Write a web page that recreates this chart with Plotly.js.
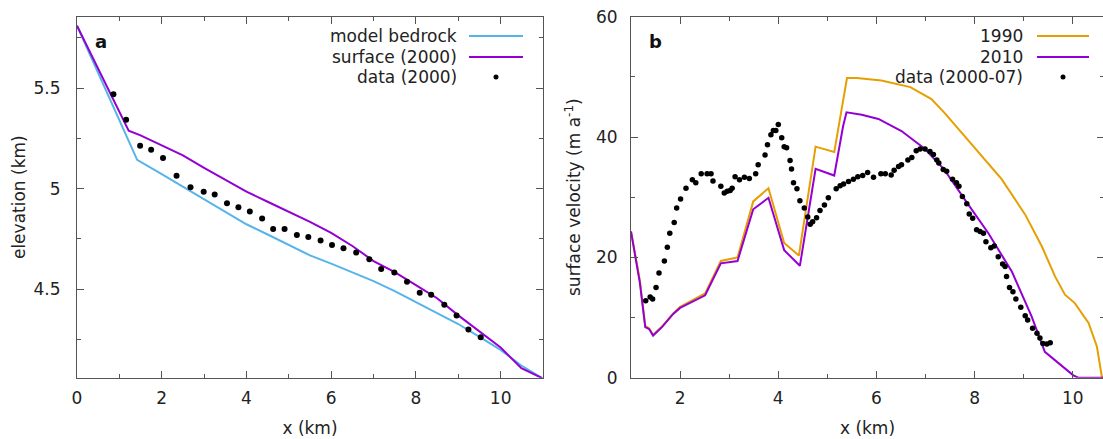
<!DOCTYPE html>
<html>
<head>
<meta charset="utf-8">
<script src="https://cdn.plot.ly/plotly-3.0.1.min.js"></script>
<style>
html,body{margin:0;padding:0;overflow:hidden;background:#fff;}
#chart{width:1110px;height:439px;}
</style>
</head>
<body>
<div id="chart"></div>
<script>
// ---- Panel a: elevation profile ----
const bedX = [0, 0.5, 1.0, 1.42, 2, 2.5, 3, 3.5, 4, 4.5, 5, 5.5, 6, 6.5, 7, 7.5, 8, 8.5, 9, 9.5, 10, 10.48, 10.98];
const bedY = [5.81, 5.575, 5.34, 5.143, 5.072, 5.01, 4.947, 4.885, 4.823, 4.772, 4.72, 4.668, 4.627, 4.583, 4.54, 4.49, 4.435, 4.382, 4.327, 4.263, 4.198, 4.122, 4.058];

const surfX = [0, 0.5, 1.0, 1.22, 1.5, 2, 2.5, 3, 3.5, 4, 4.5, 5, 5.5, 6, 6.5, 7, 7.5, 8, 8.5, 9, 9.5, 10, 10.49, 10.98];
const surfY = [5.81, 5.595, 5.38, 5.288, 5.265, 5.215, 5.165, 5.103, 5.044, 4.985, 4.935, 4.885, 4.835, 4.78, 4.715, 4.64, 4.585, 4.52, 4.455, 4.37, 4.29, 4.21, 4.107, 4.058];

const elevDataX = [0.86, 1.16, 1.49, 1.75, 2.03, 2.35, 2.68, 2.99, 3.25, 3.54, 3.81, 4.08, 4.37, 4.63, 4.90, 5.19, 5.46, 5.75, 6.02, 6.29, 6.59, 6.90, 7.18, 7.49, 7.79, 8.09, 8.36, 8.67, 8.96, 9.24, 9.53];
const elevDataY = [5.47, 5.342, 5.213, 5.193, 5.152, 5.064, 5.007, 4.984, 4.971, 4.928, 4.908, 4.886, 4.851, 4.80, 4.799, 4.770, 4.760, 4.742, 4.720, 4.704, 4.682, 4.649, 4.600, 4.583, 4.537, 4.483, 4.472, 4.423, 4.369, 4.30, 4.261];

// ---- Panel b: surface velocity ----
const v1990X = [1.0, 1.18, 1.29, 1.37, 1.45, 1.63, 1.86, 2.0, 2.51, 2.83, 3.17, 3.49, 3.80, 4.12, 4.42, 4.76, 5.14, 5.36, 5.40, 5.6, 6.1, 6.69, 7.12, 7.40, 7.75, 8.07, 8.55, 9.03, 9.37, 9.64, 9.84, 10.04, 10.32, 10.49, 10.59, 10.8];
const v1990Y = [24.3, 16.2, 8.6, 8.2, 7.1, 8.5, 10.7, 11.8, 14.0, 19.4, 20.0, 29.3, 31.5, 22.4, 20.3, 38.4, 37.5, 47.5, 49.8, 49.8, 49.4, 48.3, 46.3, 43.9, 40.6, 37.4, 33.0, 27.1, 21.8, 16.8, 13.8, 12.4, 9.1, 5.2, 0.2, 0];

const v2010X = [1.0, 1.18, 1.29, 1.37, 1.45, 1.63, 1.86, 2.0, 2.51, 2.83, 3.17, 3.49, 3.80, 4.12, 4.44, 4.76, 5.14, 5.32, 5.39, 5.7, 6.04, 6.51, 6.99, 7.38, 7.80, 8.28, 8.76, 9.16, 9.43, 9.64, 10.01, 10.11, 10.8];
const v2010Y = [24.3, 15.8, 8.4, 8.1, 7.0, 8.4, 10.6, 11.6, 13.7, 19.0, 19.4, 28.0, 29.9, 21.2, 18.6, 34.7, 33.6, 41.8, 44.1, 43.7, 43.0, 41.0, 38.0, 34.6, 29.6, 24.0, 17.6, 10.2, 4.3, 2.9, 0.4, 0, 0];

const velDataX = [1.30,1.39,1.44,1.51,1.57,1.68,1.74,1.79,1.88,1.93,2.01,2.12,2.25,2.32,2.43,2.55,2.63,2.67,2.83,2.90,2.96,3.02,3.06,3.12,3.21,3.31,3.41,3.54,3.59,3.73,3.78,3.85,3.90,3.95,4.00,4.07,4.12,4.17,4.24,4.27,4.31,4.38,4.44,4.53,4.60,4.65,4.70,4.78,4.85,4.94,5.02,5.18,5.26,5.33,5.43,5.53,5.62,5.72,5.82,5.94,6.09,6.18,6.30,6.36,6.45,6.51,6.64,6.72,6.81,6.89,6.99,7.09,7.16,7.23,7.27,7.36,7.43,7.55,7.63,7.68,7.75,7.84,7.89,7.96,8.04,8.11,8.18,8.23,8.33,8.40,8.48,8.57,8.62,8.65,8.71,8.78,8.84,8.94,9.03,9.08,9.18,9.27,9.33,9.39,9.47,9.54];
const velDataY = [12.8,13.4,13.1,15.0,17.4,19.4,21.7,24.0,25.8,28.2,29.7,31.5,32.9,32.4,33.9,33.9,33.9,32.7,31.8,30.7,31.0,31.1,31.5,33.4,32.9,33.3,33.1,33.9,35.4,37.0,38.7,40.4,41.1,41.1,42.1,39.9,38.4,38.2,36.1,34.7,32.4,31.4,29.4,28.2,26.7,25.5,25.9,26.6,27.8,28.7,29.9,31.4,31.9,32.2,32.6,33.0,33.4,33.6,34.1,33.3,33.9,33.9,33.7,34.5,35.1,35.4,36.2,36.6,37.7,38.0,38.0,37.6,37.1,36.2,35.7,34.6,34.3,33.0,32.4,31.8,30.1,28.9,27.2,26.5,24.6,24.3,24.0,22.6,21.6,21.9,20.1,18.9,18.5,16.8,15.0,14.3,13.1,11.7,10.3,9.6,8.2,7.4,6.6,5.7,5.6,5.8];

// legend labels
const legendA = ["model bedrock", "surface (2000)", "data (2000)"];
const legendB = ["1990", "2010", "data (2000-07)"];

const BLUE = "#56b4e9", PURPLE = "#9400d3", ORANGE = "#e69f00";
const W = 1110, H = 439;
const FONT = "DejaVu Sans, sans-serif";
const FS = 17;
const TXT = "#222";
const AX = "#555";

const traces = [
  {x: bedX, y: bedY, mode: "lines", line: {color: BLUE, width: 2}, xaxis: "x", yaxis: "y", name: legendA[0]},
  {x: surfX, y: surfY, mode: "lines", line: {color: PURPLE, width: 2}, xaxis: "x", yaxis: "y", name: legendA[1]},
  {x: elevDataX, y: elevDataY, mode: "markers", marker: {color: "#000", size: 6}, xaxis: "x", yaxis: "y", name: legendA[2]},
  {x: v1990X, y: v1990Y, mode: "lines", line: {color: ORANGE, width: 2}, xaxis: "x2", yaxis: "y2", name: legendB[0]},
  {x: v2010X, y: v2010Y, mode: "lines", line: {color: PURPLE, width: 2}, xaxis: "x2", yaxis: "y2", name: legendB[1]},
  {x: velDataX, y: velDataY, mode: "markers", marker: {color: "#000", size: 5.5}, xaxis: "x2", yaxis: "y2", name: legendB[2]}
];

const px = v => v / W;
const py = v => 1 - v / H;

const yDom = [py(377.7), py(16.7)];

function xAxis(dom, range, titleText, anchor) {
  return {
    domain: dom, range: range, dtick: 2, tick0: 0, anchor: anchor,
    ticks: "inside", ticklen: 7, tickwidth: 1, tickcolor: AX,
    minor: {dtick: 1, ticks: "inside", ticklen: 4, tickcolor: AX},
    showline: true, linecolor: AX, linewidth: 1, mirror: "allticks",
    showgrid: false, zeroline: false,
    tickfont: {family: FONT, size: FS, color: TXT},
    ticklabelstandoff: 5,
    title: {text: titleText, font: {family: FONT, size: FS, color: TXT}, standoff: 15}
  };
}

const layout = {
  width: W, height: H,
  margin: {l: 0, r: 0, t: 0, b: 0},
  paper_bgcolor: "#fff", plot_bgcolor: "#fff",
  showlegend: false,
  font: {family: FONT, size: FS, color: TXT},
  xaxis: xAxis([px(77), px(543)], [0, 11], "x (km)", "y"),
  yaxis: {
    domain: yDom, range: [4.06, 5.855], dtick: 0.5, tick0: 0, anchor: "x",
    ticks: "inside", ticklen: 7, tickwidth: 1, tickcolor: AX,
    minor: {dtick: 0.25, ticks: "inside", ticklen: 4, tickcolor: AX},
    showline: true, linecolor: AX, linewidth: 1, mirror: "allticks",
    showgrid: false, zeroline: false,
    tickfont: {family: FONT, size: FS, color: TXT},
    ticklabelstandoff: 12,
    title: {text: "elevation (km)", font: {family: FONT, size: FS, color: TXT}, standoff: 3}
  },
  xaxis2: xAxis([px(631), px(1104)], [1, 10.635], "x (km)", "y2"),
  yaxis2: {
    domain: yDom, range: [0, 60], dtick: 20, anchor: "x2",
    ticks: "inside", ticklen: 7, tickwidth: 1, tickcolor: AX,
    minor: {dtick: 10, ticks: "inside", ticklen: 4, tickcolor: AX},
    showline: true, linecolor: AX, linewidth: 1, mirror: "allticks",
    showgrid: false, zeroline: false,
    tickfont: {family: FONT, size: FS, color: TXT},
    ticklabelstandoff: 9,
    title: {text: "surface velocity (m a<sup>-1</sup>)", font: {family: FONT, size: FS, color: TXT}, standoff: 10}
  },
  annotations: [],
  shapes: []
};

// panel letters
layout.annotations.push({xref: "paper", yref: "paper", x: px(101), y: py(41), text: "<b>a</b>", showarrow: false, xanchor: "center", yanchor: "middle", font: {family: FONT, size: 18, color: "#111"}});
layout.annotations.push({xref: "paper", yref: "paper", x: px(655), y: py(41), text: "<b>b</b>", showarrow: false, xanchor: "center", yanchor: "middle", font: {family: FONT, size: 18, color: "#111"}});

// legends (text right-aligned, sample to the right, gnuplot style)
function addLegend(labels, textRight, lineX0, lineX1, dotX, rows, styles) {
  labels.forEach((lab, i) => {
    layout.annotations.push({xref: "paper", yref: "paper", x: px(textRight), y: py(rows[i]), text: lab, showarrow: false, xanchor: "right", yanchor: "middle", font: {family: FONT, size: FS, color: TXT}});
    const s = styles[i];
    if (s.type === "line") {
      layout.shapes.push({type: "line", xref: "paper", yref: "paper", x0: px(lineX0), x1: px(lineX1), y0: py(rows[i]), y1: py(rows[i]), line: {color: s.color, width: 2}});
    } else {
      layout.shapes.push({type: "circle", xref: "paper", yref: "paper", x0: px(dotX - 2.5), x1: px(dotX + 2.5), y0: py(rows[i] - 2.5), y1: py(rows[i] + 2.5), fillcolor: "#000", line: {color: "#000", width: 0}});
    }
  });
}
addLegend(legendA, 459, 469, 523, 496, [36, 57, 77], [{type: "line", color: BLUE}, {type: "line", color: PURPLE}, {type: "dot"}]);
addLegend(legendB, 1025, 1037, 1089, 1063, [36, 57, 77], [{type: "line", color: ORANGE}, {type: "line", color: PURPLE}, {type: "dot"}]);

Plotly.newPlot("chart", traces, layout, {staticPlot: true, displayModeBar: false});
</script>
</body>
</html>
